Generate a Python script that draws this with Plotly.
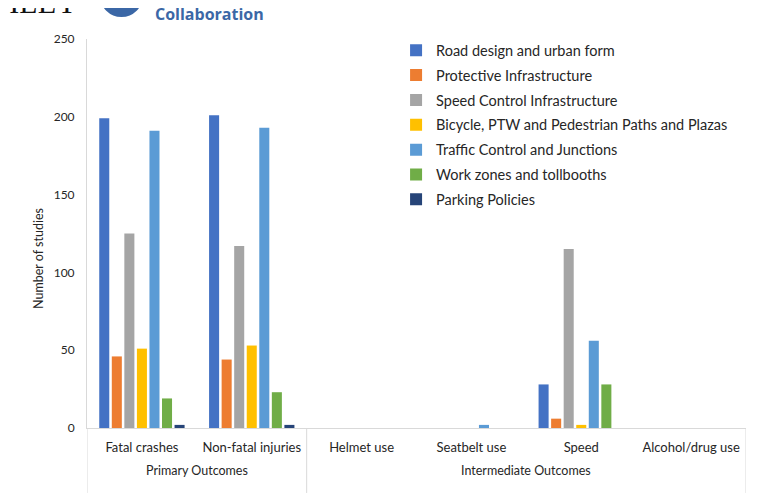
import plotly.graph_objects as go

# outcome categories and their groups
outcomes = ["Fatal crashes", "Non-fatal injuries", "Helmet use",
            "Seatbelt use", "Speed", "Alcohol/drug use"]
group_names = ["Primary Outcomes", "Intermediate Outcomes"]
group_sizes = [2, 4]

# number of studies per intervention type
road_design = [199, 201, 0, 0, 28, 0]
protective = [46, 44, 0, 0, 6, 0]
speed_control = [125, 117, 0, 0, 115, 0]
bicycle_paths = [51, 53, 0, 0, 2, 0]
traffic_control = [191, 193, 0, 2, 56, 0]
work_zones = [19, 23, 0, 0, 28, 0]
parking = [2, 2, 0, 0, 0, 0]

series = [
    ("Road design and urban form", road_design, "#4472C4"),
    ("Protective Infrastructure", protective, "#ED7D31"),
    ("Speed Control Infrastructure", speed_control, "#A5A5A5"),
    ("Bicycle, PTW and Pedestrian Paths and Plazas", bicycle_paths, "#FFC000"),
    ("Traffic Control and Junctions", traffic_control, "#5B9BD5"),
    ("Work zones and tollbooths", work_zones, "#70AD47"),
    ("Parking Policies", parking, "#264478"),
]

font_family = "Lato, 'Open Sans', sans-serif"
grey_line = "#D9D9D9"

fig = go.Figure()
for name, vals, color in series:
    fig.add_trace(go.Bar(
        x=outcomes, y=vals, name=name,
        marker=dict(color=color, line=dict(width=0)),
        legendgroup=name,
    ))

# the page body adds an 8px offset, so margins are shifted by 8px
fig.update_layout(
    width=757, height=493,
    margin=dict(l=79, r=19, t=31, b=73, autoexpand=False),
    paper_bgcolor="white", plot_bgcolor="white",
    font=dict(family=font_family, size=12, color="#262626"),
    barmode="group", bargap=0.2, bargroupgap=0.2,
    showlegend=True,
    legend=dict(
        x=0.469, y=1.012, xanchor="left", yanchor="top",
        bgcolor="rgba(0,0,0,0)", font=dict(size=14.5, color="#262626"),
        tracegroupgap=3,
    ),
)

fig.update_xaxes(
    type="category", range=[-0.5, len(outcomes) - 0.5],
    showline=True, linecolor=grey_line, linewidth=1,
    showgrid=False, ticks="",
    tickfont=dict(size=13, color="#262626"),
    ticklabelstandoff=7,
)
fig.update_yaxes(
    range=[0, 250], dtick=50,
    showline=True, linecolor=grey_line, linewidth=1,
    showgrid=False, zeroline=False, ticks="",
    tickfont=dict(size=12, color="#262626"),
    ticklabelstandoff=9,
)

# y axis title (sits a little below the axis centre, as in the original)
fig.add_annotation(
    xref="paper", yref="paper", x=-0.0744, y=0.437, xanchor="center", yanchor="middle",
    text="Number of studies", textangle=-90, showarrow=False,
    font=dict(size=12.5, color="#262626"),
)

# group labels and dividers under the category labels
start = 0
fig.add_shape(type="line", xref="x", yref="paper", x0=-0.5, x1=-0.5,
              y0=0, y1=-0.167, line=dict(color=grey_line, width=1))
for gname, gsize in zip(group_names, group_sizes):
    mid = start + (gsize - 1) / 2
    fig.add_annotation(
        xref="x", yref="paper", x=mid, y=-0.108, yanchor="middle",
        text=gname, showarrow=False, font=dict(size=12.5, color="#262626"),
    )
    edge = start + gsize - 0.5
    fig.add_shape(type="line", xref="x", yref="paper", x0=edge, x1=edge,
                  y0=0, y1=-0.167, line=dict(color=grey_line, width=1))
    start += gsize

# cropped publisher header at the top of the page
fig.add_annotation(
    xref="paper", yref="paper", x=-0.0106, y=1.0951, xanchor="right", yanchor="middle",
    text="WILEY", showarrow=False,
    font=dict(family="Liberation Serif, serif", size=30, color="#111111"),
)
fig.add_shape(
    type="circle", xref="paper", yref="paper", layer="above",
    x0=0.028, x1=0.0766, y0=1.0707, y1=1.153,
    line=dict(color="#3B67A6", width=11), fillcolor="white",
)
fig.add_annotation(
    xref="paper", yref="paper", x=0.1, y=1.0643, xanchor="left", yanchor="middle",
    text="<b>Collaboration</b>", showarrow=False,
    font=dict(family="Open Sans, sans-serif", size=16, color="#3B67A6"),
)

fig.write_html("out.html")
